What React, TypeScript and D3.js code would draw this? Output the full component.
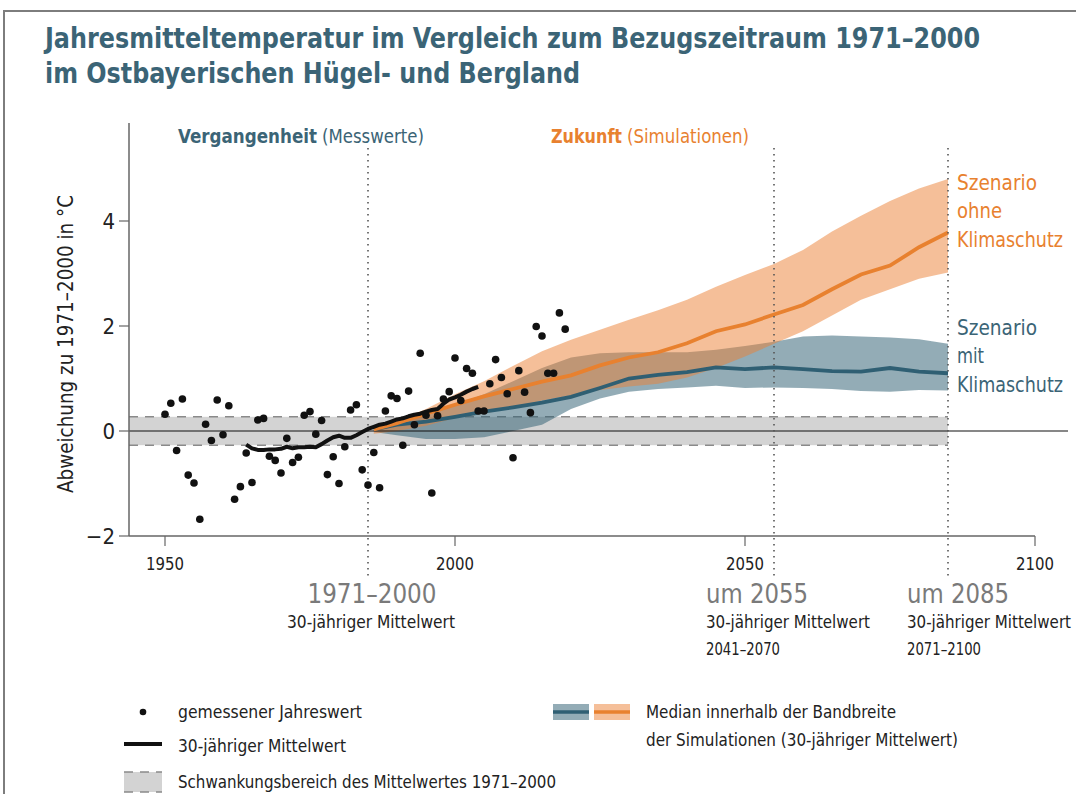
import React, { useEffect, useRef } from "react";
import * as d3 from "d3";

// gemessene Jahreswerte ab 1950 (Abweichung zu 1971–2000 in °C)
const messStart = 1950;
const messWerte = [
  0.32, 0.53, -0.37, 0.61, -0.84, -0.99, -1.68, 0.13, -0.18, 0.59,
  -0.07, 0.48, -1.3, -1.06, -0.42, -0.98, 0.21, 0.24, -0.48, -0.56,
  -0.8, -0.14, -0.6, -0.5, 0.3, 0.37, -0.06, 0.2, -0.83, -0.49,
  -1.0, -0.3, 0.4, 0.5, -0.74, -1.03, -0.41, -1.08, 0.38, 0.67,
  0.62, -0.27, 0.76, 0.12, 1.48, 0.3, -1.18, 0.29, 0.61, 0.75,
  1.39, 0.58, 1.19, 1.1, 0.38, 0.38, 0.9, 1.36, 1.02, 0.71,
  -0.51, 1.15, 0.74, 0.35, 1.99, 1.81, 1.1, 1.1, 2.25, 1.94,
];

// 30-jähriger Mittelwert ab 1964
const mittelStart = 1964;
const mittelWerte = [
  -0.26, -0.33, -0.36, -0.36, -0.35, -0.35, -0.34, -0.3, -0.33, -0.31,
  -0.31, -0.3, -0.31, -0.25, -0.18, -0.12, -0.09, -0.13, -0.13, -0.08,
  -0.02, 0.04, 0.08, 0.12, 0.14, 0.18, 0.22, 0.24, 0.28, 0.31,
  0.33, 0.37, 0.4, 0.42, 0.52, 0.6, 0.64, 0.69, 0.75, 0.8, 0.84,
];

// Simulationen (30-jähriger Mittelwert)
const simJahre = [1986, 1990, 1995, 2000, 2005, 2010, 2015, 2020, 2025, 2030, 2035,
  2040, 2045, 2050, 2055, 2060, 2065, 2070, 2075, 2080, 2085];
const ohneMedian = [0.03, 0.15, 0.33, 0.5, 0.66, 0.8, 0.94, 1.06, 1.25, 1.4, 1.5,
  1.67, 1.9, 2.03, 2.22, 2.4, 2.7, 2.98, 3.15, 3.5, 3.78];
const ohneOben = [0.1, 0.2, 0.42, 0.7, 0.95, 1.24, 1.52, 1.74, 1.93, 2.12, 2.3,
  2.5, 2.75, 2.97, 3.18, 3.45, 3.8, 4.1, 4.38, 4.62, 4.8];
const ohneUnten = [-0.05, 0.0, 0.1, 0.25, 0.33, 0.45, 0.58, 0.68, 0.78, 0.85, 0.9,
  1.02, 1.2, 1.42, 1.66, 1.9, 2.2, 2.5, 2.7, 2.9, 3.02];
const mitMedian = [0.03, 0.12, 0.18, 0.27, 0.37, 0.45, 0.54, 0.65, 0.82, 1.0, 1.07,
  1.12, 1.21, 1.18, 1.21, 1.18, 1.14, 1.13, 1.2, 1.13, 1.1];
const mitOben = [0.08, 0.15, 0.3, 0.5, 0.7, 0.95, 1.2, 1.4, 1.48, 1.5, 1.5,
  1.5, 1.55, 1.62, 1.7, 1.8, 1.82, 1.8, 1.78, 1.75, 1.66];
const mitUnten = [-0.02, -0.08, -0.15, -0.15, -0.12, 0.0, 0.12, 0.42, 0.62, 0.75, 0.8,
  0.83, 0.86, 0.82, 0.83, 0.82, 0.8, 0.76, 0.75, 0.78, 0.77];

const xTicks = [1950, 2000, 2050, 2100];
const yTicks = [-2, 0, 2, 4];
const schwankung = [-0.27, 0.27];
const zeitMarken = [1985, 2055, 2085];

const FONT = "'Liberation Sans Narrow', 'DejaVu Sans Condensed', 'Roboto', sans-serif";
const TEAL = "#3b6476";
const ORANGE = "#e8812f";
const BLUE = "#2f5f73";

export default function App() {
  const ref = useRef<SVGSVGElement>(null);

  useEffect(() => {
    const svg = d3.select(ref.current);
    svg.selectAll("*").remove();

    const x = d3.scaleLinear().domain([1950, 2100]).range([165, 1035]);
    const y = d3.scaleLinear().domain([-2, 4]).range([536, 221]);

    const txt = (s: string, px: number, py: number, o: any = {}) => {
      const t = svg.append("text")
        .attr("x", px).attr("y", py)
        .attr("font-family", FONT)
        .attr("font-size", o.size || 17)
        .attr("font-weight", o.bold ? "bold" : "normal")
        .attr("fill", o.fill || "#222")
        .attr("text-anchor", o.anchor || "start")
        .text(s);
      if (o.len) t.attr("textLength", o.len).attr("lengthAdjust", "spacingAndGlyphs");
      if (o.rotate) t.attr("transform", `rotate(-90,${px},${py})`);
      return t;
    };

    // Rahmen
    svg.append("path").attr("d", "M4,794 V11 H1076")
      .attr("fill", "none").attr("stroke", "#7d7d7d").attr("stroke-width", 2);

    // Titel
    txt("Jahresmitteltemperatur im Vergleich zum Bezugszeitraum 1971–2000", 45, 48,
      { size: 28, bold: true, fill: TEAL, len: 935 });
    txt("im Ostbayerischen Hügel- und Bergland", 45, 83,
      { size: 28, bold: true, fill: TEAL, len: 535 });

    // Schwankungsbereich
    const xEnd = x(2085);
    svg.append("rect")
      .attr("x", 129).attr("y", y(schwankung[1]))
      .attr("width", xEnd - 129).attr("height", y(schwankung[0]) - y(schwankung[1]))
      .attr("fill", "#d3d3d3");
    schwankung.forEach(v => {
      svg.append("line")
        .attr("x1", 129).attr("x2", xEnd).attr("y1", y(v)).attr("y2", y(v))
        .attr("stroke", "#8a8a8a").attr("stroke-width", 1.5).attr("stroke-dasharray", "9,7");
    });

    // Bandbreiten
    const area = (lo: number[], hi: number[]) => d3.area<number>()
      .x((d, i) => x(simJahre[i]))
      .y0((d, i) => y(lo[i]))
      .y1((d, i) => y(hi[i]));
    svg.append("path")
      .attr("d", area(mitUnten, mitOben)(simJahre) as string)
      .attr("fill", BLUE).attr("fill-opacity", 0.52);
    svg.append("path")
      .attr("d", area(ohneUnten, ohneOben)(simJahre) as string)
      .attr("fill", "#eb7f33").attr("fill-opacity", 0.5);

    // Nulllinie
    svg.append("line").attr("x1", 129).attr("x2", 1068).attr("y1", y(0)).attr("y2", y(0))
      .attr("stroke", "#111").attr("stroke-width", 1.2);

    // Mediane
    const simLine = (vals: number[]) => d3.line<number>()
      .x((d, i) => x(simJahre[i])).y(d => y(d))(vals) as string;
    svg.append("path").attr("d", simLine(mitMedian))
      .attr("fill", "none").attr("stroke", BLUE).attr("stroke-width", 3.8);
    svg.append("path").attr("d", simLine(ohneMedian))
      .attr("fill", "none").attr("stroke", ORANGE).attr("stroke-width", 3.8);

    // Zeitmarken (gepunktet)
    zeitMarken.forEach(j => {
      svg.append("line").attr("x1", x(j)).attr("x2", x(j)).attr("y1", 148).attr("y2", 580)
        .attr("stroke", "#555").attr("stroke-width", 1.6).attr("stroke-dasharray", "1.6,4.4");
    });

    // 30-jähriger Mittelwert
    svg.append("path")
      .attr("d", d3.line<number>().x((d, i) => x(mittelStart + i)).y(d => y(d))(mittelWerte) as string)
      .attr("fill", "none").attr("stroke", "#111").attr("stroke-width", 4)
      .attr("stroke-linejoin", "round");

    // Messwerte
    svg.selectAll("circle.mess").data(messWerte).enter().append("circle")
      .attr("class", "mess")
      .attr("cx", (d, i) => x(messStart + i)).attr("cy", d => y(d)).attr("r", 3.8)
      .attr("fill", "#111");

    // Achsen
    svg.append("line").attr("x1", 129).attr("x2", 129).attr("y1", 123).attr("y2", 536)
      .attr("stroke", "#666").attr("stroke-width", 1.5);
    svg.append("line").attr("x1", 129).attr("x2", x(2100)).attr("y1", 536).attr("y2", 536)
      .attr("stroke", "#666").attr("stroke-width", 1.5);
    yTicks.forEach(v => {
      svg.append("line").attr("x1", 119).attr("x2", 129).attr("y1", y(v)).attr("y2", y(v))
        .attr("stroke", "#666").attr("stroke-width", 1.2);
      txt(v < 0 ? "−" + Math.abs(v) : String(v), 115, y(v) + 8, { size: 22, anchor: "end" });
    });
    xTicks.forEach(j => {
      svg.append("line").attr("x1", x(j)).attr("x2", x(j)).attr("y1", 536).attr("y2", 546)
        .attr("stroke", "#666").attr("stroke-width", 1.2);
      txt(String(j), x(j), 570, { size: 18, anchor: "middle", len: 38 });
    });
    txt("Abweichung zu 1971–2000 in °C", 73, 344, { size: 21, anchor: "middle", rotate: true, len: 298 });

    // Überschriften
    txt("Vergangenheit", 178, 143, { size: 20, bold: true, fill: TEAL, len: 139 });
    txt("(Messwerte)", 322, 143, { size: 20, fill: TEAL, len: 102 });
    txt("Zukunft", 551, 143, { size: 20, bold: true, fill: ORANGE, len: 71 });
    txt("(Simulationen)", 627, 143, { size: 20, fill: ORANGE, len: 122 });

    // Szenario-Beschriftung
    txt("Szenario", 957, 190, { size: 22, fill: ORANGE, len: 80 });
    txt("ohne", 957, 218, { size: 22, fill: ORANGE, len: 45 });
    txt("Klimaschutz", 957, 247, { size: 22, fill: ORANGE, len: 106 });
    txt("Szenario", 957, 335, { size: 22, fill: TEAL, len: 80 });
    txt("mit", 957, 363, { size: 22, fill: TEAL, len: 27 });
    txt("Klimaschutz", 957, 392, { size: 22, fill: TEAL, len: 106 });

    // Zeitraum-Beschriftung
    txt("1971–2000", 372, 603, { size: 27, fill: "#7a7a7a", anchor: "middle", len: 129 });
    txt("30-jähriger Mittelwert", 371, 628, { size: 17, anchor: "middle", len: 168 });
    txt("um 2055", 706, 603, { size: 27, fill: "#7a7a7a", len: 102 });
    txt("30-jähriger Mittelwert", 706, 628, { size: 17, len: 164 });
    txt("2041–2070", 706, 655, { size: 17, len: 74 });
    txt("um 2085", 907, 603, { size: 27, fill: "#7a7a7a", len: 102 });
    txt("30-jähriger Mittelwert", 907, 628, { size: 17, len: 164 });
    txt("2071–2100", 907, 655, { size: 17, len: 74 });

    // Legende
    svg.append("circle").attr("cx", 143).attr("cy", 712).attr("r", 3.3).attr("fill", "#111");
    txt("gemessener Jahreswert", 178, 718, { size: 17, len: 184 });
    svg.append("line").attr("x1", 124).attr("x2", 162).attr("y1", 744).attr("y2", 744)
      .attr("stroke", "#111").attr("stroke-width", 4);
    txt("30-jähriger Mittelwert", 178, 752, { size: 17, len: 168 });
    svg.append("rect").attr("x", 124).attr("y", 772).attr("width", 38).attr("height", 20)
      .attr("fill", "#d3d3d3");
    [772, 792].forEach(yy => {
      svg.append("line").attr("x1", 124).attr("x2", 162).attr("y1", yy).attr("y2", yy)
        .attr("stroke", "#8a8a8a").attr("stroke-width", 1.5).attr("stroke-dasharray", "9,7");
    });
    txt("Schwankungsbereich des Mittelwertes 1971–2000", 178, 788, { size: 17, len: 378 });

    [[553, BLUE, BLUE], [594, "#eb7f33", ORANGE]].forEach(([px, band, line]) => {
      svg.append("rect").attr("x", px as number).attr("y", 704).attr("width", 36).attr("height", 16)
        .attr("fill", band as string).attr("fill-opacity", band === BLUE ? 0.52 : 0.5);
      svg.append("line").attr("x1", px as number).attr("x2", (px as number) + 36)
        .attr("y1", 712).attr("y2", 712).attr("stroke", line as string).attr("stroke-width", 3.5);
    });
    txt("Median innerhalb der Bandbreite", 646, 718, { size: 17, len: 250 });
    txt("der Simulationen (30-jähriger Mittelwert)", 646, 746, { size: 17, len: 312 });
  }, []);

  return (
    <svg ref={ref} width={1076} height={794}
      style={{ position: "absolute", left: 0, top: 0, background: "#fff" }} />
  );
}
